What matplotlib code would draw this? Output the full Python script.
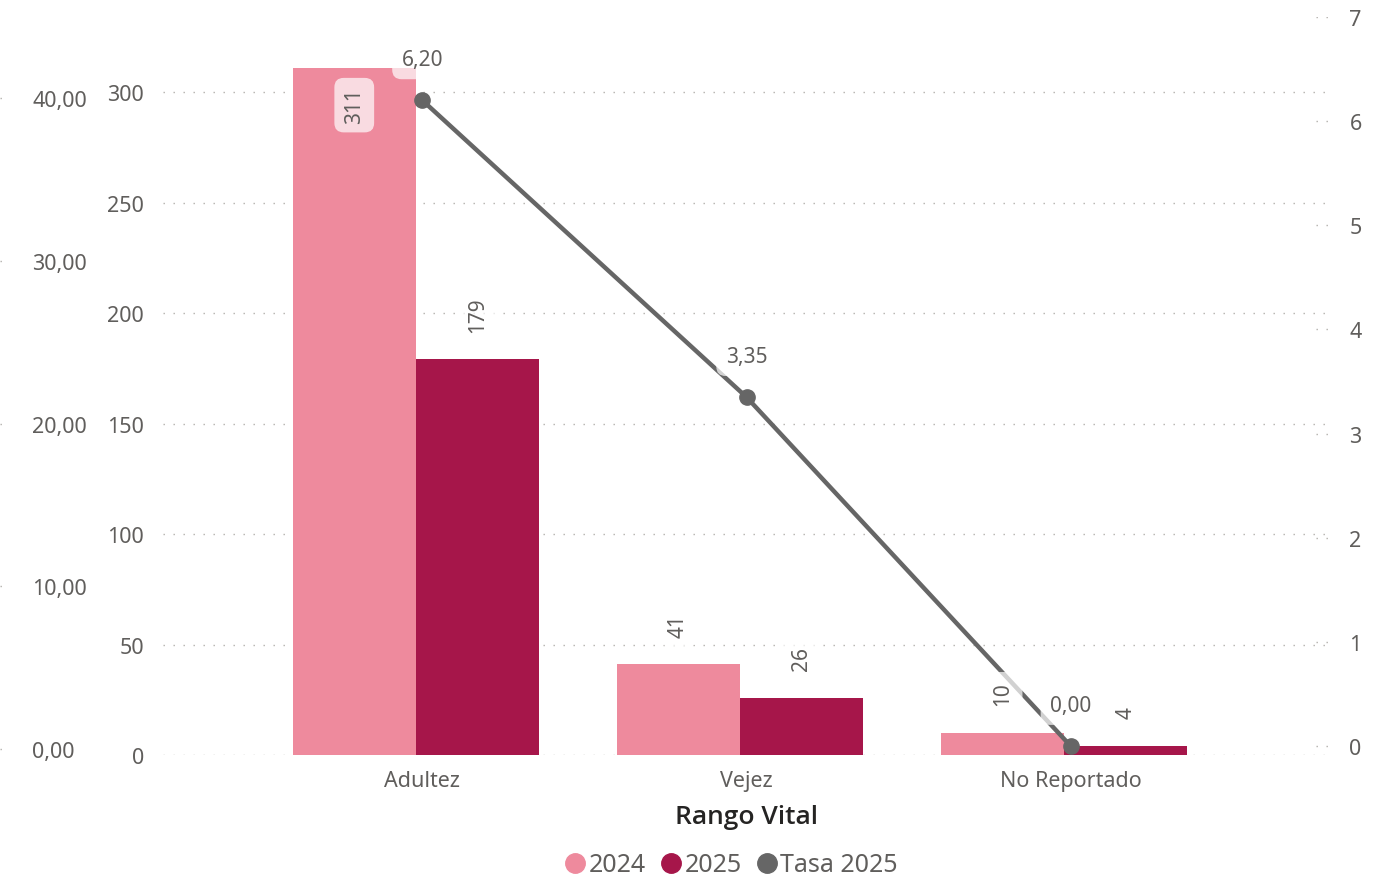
import numpy as np
import matplotlib
matplotlib.use('Agg')
import matplotlib.pyplot as plt
from matplotlib.lines import Line2D

plt.rcParams['font.family'] = ['Noto Sans', 'DejaVu Sans']

# data
categories = ['Adultez', 'Vejez', 'No Reportado']
casos_2024 = [311, 41, 10]
casos_2025 = [179, 26, 4]
tasa_2025 = [6.20, 3.35, 0.00]

bar_ticks = [0, 50, 100, 150, 200, 250, 300]
tasa_ticks = [0, 1, 2, 3, 4, 5, 6, 7]
extra_ticks = [0, 10, 20, 30, 40]

C24 = '#EE8A9D'
C25 = '#A6164A'
CLINE = '#666666'
TXT = '#605E5C'
GRID = '#B3B0AD'
DOTS = (0, (1, 6.2))


def fmt(v, nd=2):
    return f'{v:.{nd}f}'.replace('.', ',')


W, H = 1377, 879
fig = plt.figure(figsize=(W / 100, H / 100), dpi=100)
bottom = (H - 756) / H
height = (756 - 18) / H
ax = fig.add_axes([163 / W, bottom, (1330 - 163) / W, height])

x = np.arange(len(categories))
xl = x + 0.02  # category centres used by the line and the labels
w = 0.38
ax.bar(x - w / 2, casos_2024, w, color=C24, zorder=2)
ax.bar(x + w / 2, casos_2025, w, color=C25, zorder=2)
ax.set_xlim(-0.78, 2.82)
ax.set_ylim(0, 334)
ax.set_yticks(bar_ticks)
ax.set_yticklabels([str(t) for t in bar_ticks])
ax.set_xticks(xl)
ax.set_xticklabels(categories)
ax.tick_params(axis='y', length=0, pad=13.5, labelsize=15.5, labelcolor=TXT)
ax.tick_params(axis='x', length=0, pad=11, labelsize=15.5, labelcolor=TXT)
ax.grid(axis='y', color=GRID, linestyle=DOTS, linewidth=1.0, zorder=0)
for s in ax.spines.values():
    s.set_visible(False)
ax.set_xlabel('Rango Vital', fontsize=19, color='#252423',
              family=['Open Sans', 'DejaVu Sans'], fontweight='semibold',
              labelpad=9)

# rate line on secondary axis
ax2 = ax.twinx()
ax2.set_ylim(-0.0864, 7)
ax2.set_yticks(tasa_ticks)
ax2.set_yticklabels([str(t) for t in tasa_ticks])
ax2.tick_params(axis='y', length=0, pad=14, labelsize=15.5, labelcolor=TXT)
for s in ax2.spines.values():
    s.set_visible(False)
for t in tasa_ticks:
    ax2.plot([0.988, 1.0], [t, t], transform=ax2.get_yaxis_transform(),
             color=GRID, linestyle=DOTS, linewidth=1.0)
ax2.plot(xl, tasa_2025, color=CLINE, linewidth=3.2, marker='o',
         markersize=11, zorder=3)

box = dict(boxstyle='round,pad=0.45', fc='white', ec='none', alpha=0.7)
for xi, v in zip(xl, tasa_2025):
    ax2.annotate(fmt(v), (xi, v), xytext=(0, 29.5), textcoords='offset points',
                 ha='center', va='center', fontsize=15, color=TXT,
                 bbox=box, zorder=5)

# bar data labels (drawn on top of the line)
for xi, v in zip(x - w / 2, casos_2024):
    if v > 300:
        ax2.annotate(str(v), (xi, v), xycoords=ax.transData, xytext=(0, -14),
                     textcoords='offset points', ha='center', va='top',
                     rotation=90, fontsize=15, color=TXT, bbox=box, zorder=5)
    else:
        ax2.annotate(str(v), (xi, v), xycoords=ax.transData, xytext=(0, 20),
                     textcoords='offset points', ha='center', va='bottom',
                     rotation=90, fontsize=15, color=TXT, bbox=box, zorder=5)
for xi, v in zip(x + w / 2, casos_2025):
    ax2.annotate(str(v), (xi, v), xycoords=ax.transData, xytext=(0, 20),
                 textcoords='offset points', ha='center', va='bottom',
                 rotation=90, fontsize=15, color=TXT, bbox=box, zorder=5)

# extra axis at the far left
ax3 = fig.add_axes([0, bottom, 10 / W, height])
ax3.set_ylim(-0.37, 45)
ax3.set_xlim(0, 1)
ax3.set_yticks(extra_ticks)
ax3.set_yticklabels([fmt(t) for t in extra_ticks])
ax3.yaxis.tick_right()
ax3.set_xticks([])
ax3.tick_params(axis='y', length=0, pad=16, labelsize=15.5, labelcolor=TXT)
ax3.grid(axis='y', color=GRID, linestyle=DOTS, linewidth=1.0)
ax3.patch.set_visible(False)
for s in ax3.spines.values():
    s.set_visible(False)

handles = [Line2D([], [], linestyle='none', marker='o', markersize=14, color=c)
           for c in (C24, C25, CLINE)]
fig.legend(handles, ['2024', '2025', 'Tasa 2025'], loc='center',
           bbox_to_anchor=(730 / W, 1 - 866 / H), ncol=3, frameon=False,
           fontsize=18, labelcolor=TXT, handletextpad=0.05, columnspacing=0.5,
           handlelength=1.0, borderpad=0)

fig.savefig('out.png', dpi=100)
